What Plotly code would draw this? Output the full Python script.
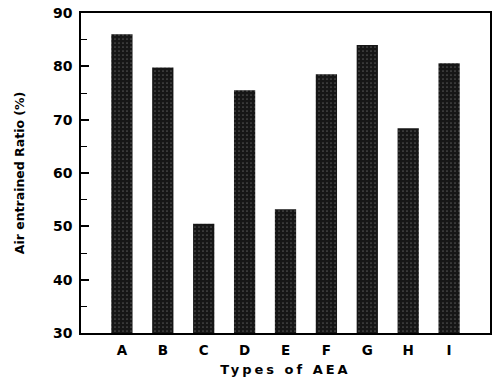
import plotly.graph_objects as go

categories = ["A", "B", "C", "D", "E", "F", "G", "H", "I"]
air_ratio = [86.0, 79.8, 50.5, 75.5, 53.2, 78.5, 84.0, 68.4, 80.6]
y_ticks = [30, 40, 50, 60, 70, 80, 90]

font_family = "DejaVu Sans, Arial, sans-serif"

fig = go.Figure(
    go.Bar(
        x=categories,
        y=air_ratio,
        width=0.52,
        marker=dict(
            color="#161616",
            line=dict(width=0),
            pattern=dict(shape=".", fgcolor="#8c8c8c", bgcolor="#161616", size=4, solidity=0.15),
        ),
    )
)

fig.update_layout(
    width=494,
    height=379,
    margin=dict(l=81, r=2, t=13, b=46),
    paper_bgcolor="white",
    plot_bgcolor="white",
    showlegend=False,
    font=dict(family=font_family, size=14, color="black", weight="bold"),
    xaxis=dict(
        range=[-1, 9],
        showline=True,
        linecolor="black",
        linewidth=1.5,
        mirror=True,
        showgrid=False,
        ticks="",
        ticklabelstandoff=4,
        tickfont=dict(size=13.5, weight="bold"),
        title=dict(text="Types of AEA", font=dict(size=13, weight="bold"), standoff=8),
    ),
    yaxis=dict(
        range=[30, 90],
        tickvals=y_ticks,
        showline=True,
        linecolor="black",
        linewidth=1.5,
        mirror=True,
        showgrid=False,
        zeroline=False,
        ticks="inside",
        ticklen=8,
        tickwidth=1.5,
        tickcolor="black",
        ticklabelstandoff=4,
        minor=dict(dtick=5, ticks="inside", ticklen=6, tickwidth=1.2, tickcolor="black"),
        tickfont=dict(size=14, weight="bold"),
        title=dict(text="Air entrained Ratio (%)", font=dict(size=12.5, weight="bold"), standoff=26),
    ),
)

post = """
document.querySelectorAll('.xtitle').forEach(function(e){e.style.letterSpacing='3px';});
"""
fig.write_html("out.html", post_script=post)
